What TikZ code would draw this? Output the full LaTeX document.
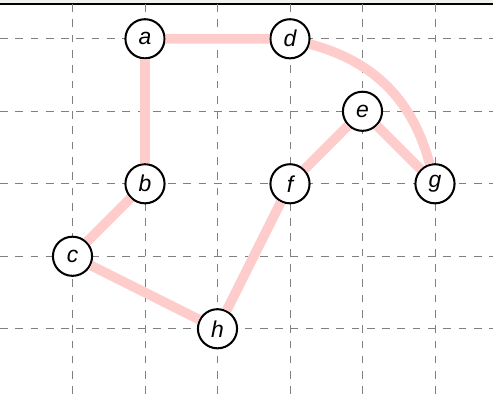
\documentclass[tikz,border=0pt]{standalone}
\usepackage{fontspec}
\setmainfont{Liberation Sans}
\usepackage{tikz}

\begin{document}
\begin{tikzpicture}[x=1cm,y=1cm,line width=.35pt,font=\fontsize{9}{10}\selectfont\itshape,
  vtx/.style={circle,draw,thick,fill=white,inner sep=0pt,minimum size=.54cm},
  edg/.style={red!20,line width=3.8pt}]
\useasboundingbox (0,.1) rectangle (6.8,5.535);
\fill[yellow!10!gray!15] (0,5.48) rectangle (6.8,5.535);
\draw[line width=.8pt] (0,5.48)--(6.8,5.48);
\foreach \i in {1,...,6} \draw[gray,dashed] (\i,.1)--(\i,5.48);
\foreach \j in {1,...,5} \draw[gray,dashed] (0,\j)--(6.8,\j);
\node[vtx] (a) at (2,5) {a};\node[vtx] (d) at (4,5) {d};
\node[vtx] (e) at (5,4) {e};
\node[vtx] (b) at (2,3) {b};\node[vtx] (f) at (4,3) {f};\node[vtx] (g) at (6,3) {g};
\node[vtx] (c) at (1,2) {c};
\node[vtx] (h) at (3,1) {h};
\draw[edg] (a)--(d) (a)--(b) (b)--(c) (c)--(h) (h)--(f) (f)--(e) (e)--(g);
\draw[edg] (d) to[bend left=30] (g);
\end{tikzpicture}
\end{document}
